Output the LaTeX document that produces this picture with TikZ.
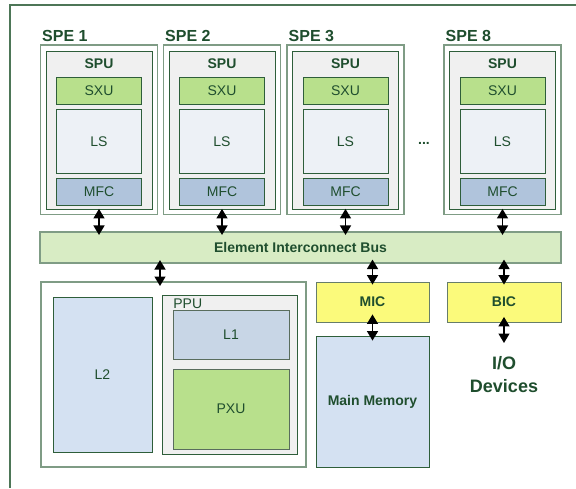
\documentclass[tikz,border=0pt]{standalone}
\usepackage{fontspec}
\setmainfont{Liberation Sans}
\usetikzlibrary{arrows.meta,calc,positioning}

\definecolor{CellText}{HTML}{1F4E2E}
\definecolor{EdgeDark}{HTML}{2E5E3A}
\definecolor{EdgeGrey}{HTML}{7F9C85}
\definecolor{UnitGreen}{HTML}{B8E08C}
\definecolor{StoreBlue}{HTML}{EDF1F6}
\definecolor{FlowBlue}{HTML}{B0C4DC}
\definecolor{CoreGrey}{HTML}{F0F0F0}
\definecolor{BusGreen}{HTML}{D8ECC4}
\definecolor{CtrlYellow}{HTML}{FBFA7B}
\definecolor{MemBlue}{HTML}{D4E1F2}
\definecolor{CacheBlue}{HTML}{C8D6E6}

\tikzset{
    cell/.style={draw=EdgeDark, line width=0.8pt, text=CellText, inner sep=0pt,
        font=\fontsize{14}{16}\selectfont},
    boldlbl/.style={text=CellText, inner sep=0pt, font=\fontsize{14}{16}\selectfont\bfseries},
    spelbl/.style={text=CellText, inner sep=0pt, font=\fontsize{16}{18}\selectfont\bfseries},
    iolbl/.style={text=CellText, inner sep=0pt, align=center, font=\fontsize{18}{22.7}\selectfont\bfseries},
    speouter/.style={cell, draw=EdgeGrey, line width=1.3pt, fill=white, minimum width=117pt, minimum height=169.5pt},
    spubox/.style={cell, fill=CoreGrey, minimum width=106pt, minimum height=158.5pt},
    sxubox/.style={cell, fill=UnitGreen, minimum width=85pt, minimum height=26.5pt},
    lsbox/.style={cell, fill=StoreBlue, minimum width=85pt, minimum height=63.5pt},
    mfcbox/.style={cell, fill=FlowBlue, minimum width=85pt, minimum height=27pt},
    busbox/.style={cell, draw=EdgeGrey, line width=1.1pt, fill=BusGreen, font=\fontsize{14}{16}\selectfont\bfseries,
        minimum width=521pt, minimum height=31pt},
    ctrlbox/.style={cell, draw=EdgeGrey!80!black, fill=CtrlYellow, font=\fontsize{14}{16}\selectfont\bfseries,
        minimum width=113pt, minimum height=40pt},
    biarrow/.style={<->, >={Triangle[width=11pt,length=9.5pt]}, line width=1.4pt, black}
}

\begin{document}
\begin{tikzpicture}[x=1pt,y=-1pt]
            \useasboundingbox[fill=white] (0,0) rectangle (576,488);
            \draw[EdgeDark!85, line width=1.2pt] (576,5) -- (10,5) -- (10,488);

            %SPEs
            \foreach \x/\n in {99/1, 222/2, 345.5/3, 502.5/8} {
                \node[speouter] (spe\n) at (\x, 129.75) {};
                \node[spubox] (spu\n) at (\x, 130.25) {};
                \node[boldlbl, anchor=base] (spulbl\n) at (\x, 68.5) {SPU};
                \node[sxubox] (sxu\n) at (\x, 90.75) {SXU};
                \node[lsbox] (ls\n) at (\x, 141.25) {LS};
                \node[mfcbox] (mfc\n) at (\x, 191.5) {MFC};
                \node[spelbl, anchor=base west] (spename\n) at (\x-57, 41) {SPE \n};
            }
            \node[boldlbl, anchor=base] (dots) at (424, 144) {...};

            \node[busbox] (bus) at (300.5, 247.5) {Element Interconnect Bus};
            \foreach \n in {1, 2, 3, 8}
                \draw[biarrow, shorten <=-1pt, shorten >=-3.5pt] (spu\n.south) -- (spu\n.south |- bus.north);

            %PPE
            \node[cell, draw=EdgeGrey, line width=1.1pt, fill=white, minimum width=265pt, minimum height=185pt] (ppe) at (173.5, 374.5) {};
            \node[cell, fill=MemBlue, minimum width=99pt, minimum height=155pt] (ltwo) at (102.5, 374.5) {L2};
            \node[cell, fill=CoreGrey, minimum width=135pt, minimum height=159pt] (ppu) at (229.5, 374.5) {};
            \node[cell, draw=EdgeGrey!70!black, fill=CacheBlue, minimum width=116pt, minimum height=49pt] (lone) at (231, 334.5) {L1};
            \node[cell, draw=EdgeGrey!70!black, fill=UnitGreen, minimum width=116pt, minimum height=80pt] (pxu) at (231, 409) {PXU};
            \node[cell, draw=none, anchor=base west] (ppulbl) at (173, 308.5) {PPU};
            \coordinate (ppeport) at (160, 282);
            \draw[biarrow, shorten <=-3.5pt, shorten >=-4pt] (bus.south -| ppeport) -- (ppeport);

            %memory and I/O
            \node[ctrlbox] (mic) at (372.5, 302) {MIC};
            \node[cell, fill=MemBlue, font=\fontsize{14}{16}\selectfont\bfseries, minimum width=113pt, minimum height=131pt] (mainmem) at (372.5, 401.5) {Main Memory};
            \node[ctrlbox, minimum width=114pt] (bic) at (504, 302) {BIC};
            \node[iolbl, anchor=north] (io) at (504, 356.5) {I/O\\Devices};
            \coordinate (ioport) at (bic.south |- 0, 343);

            \draw[biarrow, shorten <=-4pt, shorten >=-3pt] (bus.south -| mic.north) -- (mic.north);
            \draw[biarrow, shorten <=-4pt, shorten >=-3pt] (bus.south -| bic.north) -- (bic.north);
            \draw[biarrow, shorten <=-8pt, shorten >=-5pt] (mic.south) -- (mainmem.north);
            \draw[biarrow, shorten <=-5.5pt] (bic.south) -- (ioport);
        \end{tikzpicture}
\end{document}
